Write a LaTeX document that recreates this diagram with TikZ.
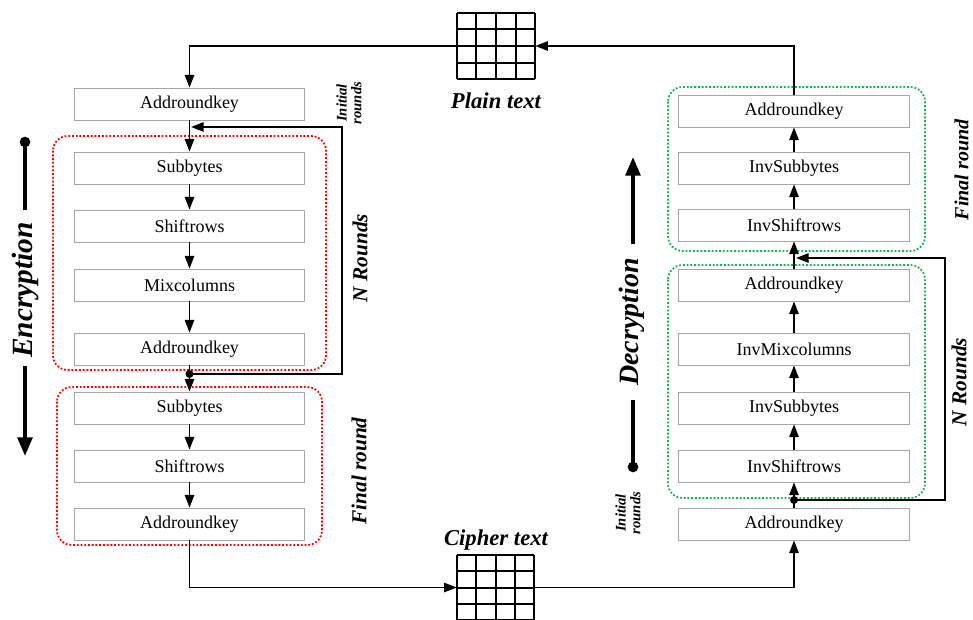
\documentclass[tikz,border=0pt]{standalone}
\usepackage{fontspec}
\setmainfont{Liberation Serif}
\usetikzlibrary{arrows.meta,calc}

\definecolor{decgreen}{RGB}{20,180,80}
\tikzset{
  blk/.style={draw=black!35,line width=0.6pt,minimum width=173pt,minimum height=24pt,inner sep=0pt,font=\fontsize{13.5}{15}\selectfont},
  flow/.style={line width=1.3pt,-{Triangle[length=9.5pt,width=7pt]}},
  wire/.style={line width=1.3pt},
  gridln/.style={line width=1.5pt},
  encframe/.style={draw=red,line width=1.3pt,dash pattern=on 1.4pt off 1.4pt,rounded corners=11pt},
  decframe/.style={encframe,draw=decgreen},
  ttl/.style={font=\bfseries\itshape\fontsize{17}{19}\selectfont},
  side/.style={rotate=90,font=\bfseries\itshape\fontsize{16}{18}\selectfont},
  init/.style={rotate=90,align=center,inner sep=0pt,font=\bfseries\itshape\fontsize{11}{11}\selectfont},
  dir/.style={line width=2.8pt},
}

\begin{document}
\begin{tikzpicture}[x=0.75pt,y=-0.75pt]
  \useasboundingbox (0,0) rectangle (973,619);

  % Encryption column
  \node[blk] (ark0) at (189.5,104) {Addroundkey};
  \node[blk] (sb1) at (189.5,168) {Subbytes};
  \node[blk] (sr1) at (189.5,226) {Shiftrows};
  \node[blk] (mc1) at (189.5,285) {Mixcolumns};
  \node[blk] (ark1) at (189.5,349) {Addroundkey};
  \node[blk] (sb2) at (189.5,408) {Subbytes};
  \node[blk] (sr2) at (189.5,466) {Shiftrows};
  \node[blk] (ark2) at (189.5,524) {Addroundkey};
  \draw[encframe] (53,136) rectangle (326,370);
  \draw[encframe] (57,387) rectangle (322,545);

  % Decryption column
  \node[blk] (dark2) at (794,111) {Addroundkey};
  \node[blk] (disb2) at (794,168) {InvSubbytes};
  \node[blk] (disr2) at (794,225) {InvShiftrows};
  \node[blk] (dark1) at (794,285) {Addroundkey};
  \node[blk] (dimc) at (794,349) {InvMixcolumns};
  \node[blk] (disb1) at (794,408) {InvSubbytes};
  \node[blk] (disr1) at (794,466) {InvShiftrows};
  \node[blk] (dark0) at (794,524) {Addroundkey};
  \draw[decframe] (668,87) rectangle (925,251);
  \draw[decframe] (668,265) rectangle (925,498);

  % State grids
  \node[minimum width=58.5pt,minimum height=49.5pt,inner sep=0pt] (plain) at (496,46) {};
  \node[minimum width=57.75pt,minimum height=48.75pt,inner sep=0pt] (cipher) at (495.5,587.5) {};
  \foreach \g in {plain,cipher} {
    \foreach \i in {0,...,4} {
      \draw[gridln] ($(\g.north west)!\i/4!(\g.north east)$) -- ($(\g.south west)!\i/4!(\g.south east)$);
      \draw[gridln] ($(\g.north west)!\i/4!(\g.south west)$) -- ($(\g.north east)!\i/4!(\g.south east)$);
    }
  }
  \node[ttl] (plaintxt) at (496,101) {Plain text};
  \node[ttl] (ciphertxt) at (496,540) {Cipher text};

  % Encryption flow
  \draw[flow] (plain.west) -| (ark0.north);
  \draw[flow] (ark0.south) -- (sb1.north);
  \draw[flow] (sb1.south) -- (sr1.north);
  \draw[flow] (sr1.south) -- (mc1.north);
  \draw[flow] (mc1.south) -- (ark1.north);
  \coordinate (encdot) at (189.5,374);
  \coordinate (encturn) at (342,374);
  \coordinate (encin) at (191,127);
  \draw[wire] (ark1.south) -- (encdot);
  \fill (encdot) circle[radius=3pt];
  \draw[flow] (encdot) -- (encturn) |- (encin);
  \draw[flow] (encdot) -- (sb2.north);
  \draw[flow] (sb2.south) -- (sr2.north);
  \draw[flow] (sr2.south) -- (ark2.north);
  \draw[flow] (ark2.south) |- (cipher.west);

  % Decryption flow
  \draw[flow] (cipher.east) -| (dark0.south);
  \coordinate (decdot) at (794,500);
  \coordinate (decturn) at (945,500);
  \coordinate (decin) at (796,258);
  \draw[flow] (dark0.north) -- (disr1.south);
  \fill (decdot) circle[radius=3pt];
  \draw[flow] (decdot) -- (decturn) |- (decin);
  \draw[flow] (disr1.north) -- (disb1.south);
  \draw[flow] (disb1.north) -- (dimc.south);
  \draw[flow] (dimc.north) -- (dark1.south);
  \draw[flow] (dark1.north) -- (disr2.south);
  \draw[flow] (disr2.north) -- (disb2.south);
  \draw[flow] (disb2.north) -- (dark2.south);
  \draw[flow] (dark2.north) |- (plain.east);

  % Side labels
  \node[side] (nrenc) at (360,258) {N Rounds};
  \node[side] (frenc) at (359,471) {Final round};
  \node[init] (irenc) at (349,103) {Initial\\rounds};
  \node[side] (nrdec) at (959,382) {N Rounds};
  \node[side,font=\bfseries\itshape\fontsize{15}{17}\selectfont] (frdec) at (961.5,170) {Final round};
  \node[init] (irdec) at (628,513) {Initial\\rounds};

  % Direction markers
  \node[side,font=\bfseries\itshape\fontsize{22}{24}\selectfont] (enclbl) at (25,290) {Encryption};
  \coordinate (encs) at (25,142);
  \coordinate (ence) at (25,456);
  \fill (encs) circle[radius=4pt];
  \draw[dir] (encs) -- (25,210);
  \draw[dir,-{Triangle[length=14pt,width=11pt]}] (25,366) -- (ence);
  \node[side,font=\bfseries\itshape\fontsize{21}{23}\selectfont] (declbl) at (632,322) {Decryption};
  \coordinate (decs) at (633,467);
  \coordinate (dece) at (633,157);
  \fill (decs) circle[radius=4pt];
  \draw[dir] (decs) -- (633,400);
  \draw[dir,-{Triangle[length=14pt,width=11pt]}] (633,244) -- (dece);
\end{tikzpicture}
\end{document}
